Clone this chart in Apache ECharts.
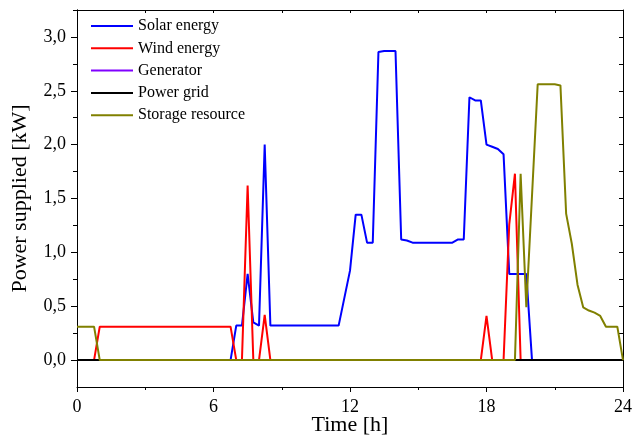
<!DOCTYPE html>
<html>
<head>
<meta charset="utf-8">
<script src="https://cdn.jsdelivr.net/npm/echarts@6/dist/echarts.min.js"></script>
<style>
  html, body { margin: 0; padding: 0; background: #fff; }
  #chart { width: 635px; height: 441px; }
</style>
</head>
<body>
<div id="chart"></div>
<script>
// hours / power values (kW)
const solarT = [0, 6.75, 7, 7.25, 7.5, 7.75, 8, 8.25, 8.5, 11.5, 12, 12.25, 12.5, 12.75, 13, 13.25, 13.5, 14, 14.25, 14.5, 14.75, 16.5, 16.75, 17, 17.25, 17.5, 17.75, 18, 18.25, 18.5, 18.75, 19, 19.75, 20, 24]
const solarP = [0, 0, 0.32, 0.32, 0.80, 0.35, 0.32, 2.0, 0.32, 0.32, 0.83, 1.35, 1.35, 1.09, 1.09, 2.86, 2.87, 2.87, 1.12, 1.11, 1.09, 1.09, 1.12, 1.12, 2.44, 2.41, 2.41, 2.0, 1.98, 1.96, 1.91, 0.80, 0.80, 0, 0]

const windT = [0, 0.75, 1, 6.75, 7, 7.25, 7.5, 7.75, 8, 8.25, 8.5, 17.75, 18, 18.25, 18.75, 19, 19.25, 19.5, 24]
const windP = [0, 0, 0.31, 0.31, 0, 0, 1.62, 0, 0, 0.42, 0, 0, 0.41, 0, 0, 1.26, 1.73, 0, 0]

const generatorT = [0, 24]
const generatorP = [0, 0]

const gridT = [0, 24]
const gridP = [0, 0]

const storageT = [0, 0.75, 1, 19.25, 19.5, 19.75, 20.25, 21, 21.25, 21.5, 21.75, 22, 22.25, 22.5, 22.75, 23, 23.25, 23.75, 24]
const storageP = [0.31, 0.31, 0, 0, 1.73, 0.49, 2.56, 2.56, 2.55, 1.36, 1.08, 0.70, 0.49, 0.46, 0.44, 0.41, 0.31, 0.31, 0]

const yLabelTicks = [0, 0.5, 1.0, 1.5, 2.0, 2.5, 3.0]
const yMinorTicks = [0, 0.25, 0.5, 0.75, 1.0, 1.25, 1.5, 1.75, 2.0, 2.25, 2.5, 2.75, 3.0, 3.25]

const names = ['Solar energy', 'Wind energy', 'Generator', 'Power grid', 'Storage resource']
const colors = ['#0000ff', '#ff0000', '#8000ff', '#000000', '#808000']

function pairs(t, p) {
  return t.map((x, i) => [x, p[i]])
}

const chart = echarts.init(document.getElementById('chart'))
const font = 'Liberation Serif'
const black = { color: '#000', width: 1 }

const allSeries = [
  pairs(solarT, solarP),
  pairs(windT, windP),
  pairs(generatorT, generatorP),
  pairs(gridT, gridP),
  pairs(storageT, storageP)
].map((d, i) => ({
  name: names[i],
  type: 'line',
  data: d,
  showSymbol: false,
  symbol: 'none',
  xAxisIndex: 0,
  yAxisIndex: 0,
  lineStyle: { width: 2, color: colors[i] },
  itemStyle: { color: colors[i] },
  z: 2 + i
}))

const option = {
  animation: false,
  backgroundColor: '#fff',
  color: colors,
  grid: { left: 77, right: 12, top: 10, bottom: 54, containLabel: false, outerBoundsMode: 'none' },
  legend: {
    data: names,
    orient: 'vertical',
    left: 86,
    top: 13,
    icon: 'rect',
    itemWidth: 42,
    itemHeight: 2,
    itemGap: 6.3,
    textStyle: { fontFamily: font, fontSize: 16, color: '#000', lineHeight: 16 }
  },
  xAxis: [
    {
      type: 'value',
      min: 0,
      max: 24,
      interval: 6,
      position: 'bottom',
      name: 'Time [h]',
      nameLocation: 'middle',
      nameGap: 27,
      nameMoveOverlap: false,
      nameTextStyle: { fontFamily: font, fontSize: 22, color: '#000', lineHeight: 22 },
      axisLine: { show: true, onZero: false, lineStyle: black },
      axisTick: { length: 5, lineStyle: black },
      minorTick: { show: true, splitNumber: 2, length: 3, lineStyle: black },
      axisLabel: { fontFamily: font, fontSize: 18, color: '#000', margin: 11 },
      splitLine: { show: false }
    },
    {
      type: 'value',
      min: 0,
      max: 24,
      interval: 3,
      position: 'top',
      axisLine: { show: true, onZero: false, lineStyle: black },
      axisTick: { inside: true, length: 3, lineStyle: black },
      axisLabel: { show: false },
      splitLine: { show: false }
    }
  ],
  yAxis: [
    {
      type: 'value',
      min: -0.25,
      max: 3.25,
      interval: 0.25,
      position: 'left',
      name: 'Power supplied [kW]',
      nameLocation: 'middle',
      nameGap: 46,
      nameMoveOverlap: false,
      nameTextStyle: { fontFamily: font, fontSize: 22, color: '#000', lineHeight: 22 },
      axisLine: { show: true, onZero: false, lineStyle: black },
      axisTick: { customValues: yLabelTicks, length: 6, lineStyle: black },
      axisLabel: {
        customValues: yLabelTicks,
        fontFamily: font,
        fontSize: 18,
        color: '#000',
        margin: 11,
        formatter: v => v.toFixed(1).replace('.', ',')
      },
      splitLine: { show: false }
    },
    {
      type: 'value',
      min: -0.25,
      max: 3.25,
      interval: 0.25,
      position: 'left',
      axisLine: { show: true, onZero: false, lineStyle: black },
      axisTick: { customValues: yMinorTicks, length: 4, lineStyle: black },
      axisLabel: { show: false },
      splitLine: { show: false }
    },
    {
      type: 'value',
      min: -0.25,
      max: 3.25,
      interval: 0.25,
      position: 'right',
      axisLine: { show: true, onZero: false, lineStyle: black },
      axisTick: { customValues: yMinorTicks, inside: true, length: 4, lineStyle: black },
      axisLabel: { show: false },
      splitLine: { show: false }
    }
  ],
  series: allSeries
}

chart.setOption(option)
</script>
</body>
</html>
